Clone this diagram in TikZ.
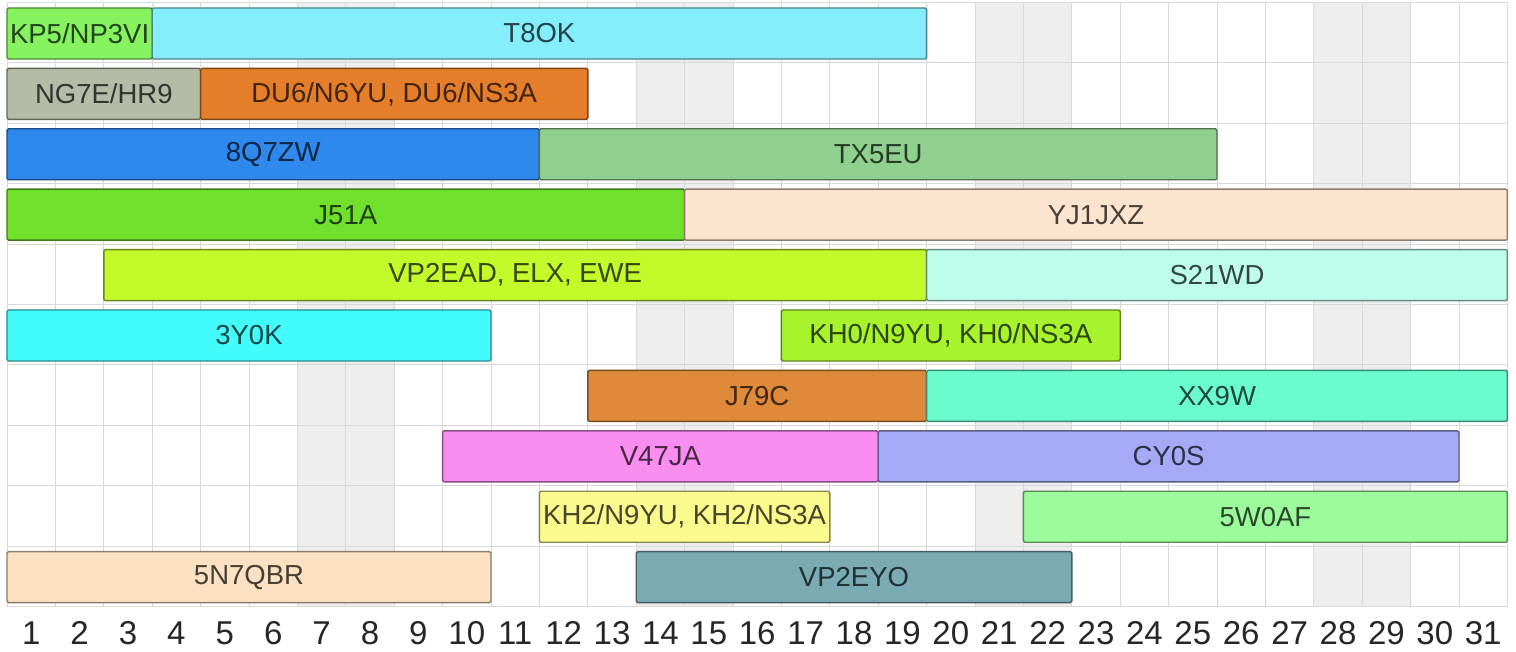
\documentclass[tikz,border=0pt]{standalone}
\usepackage{fontspec}
\setmainfont{Liberation Sans}
\definecolor{cKP}{HTML}{86F260}
\definecolor{cT8}{HTML}{84EEFC}
\definecolor{cNG}{HTML}{B4BCA6}
\definecolor{cDU}{HTML}{E57E2A}
\definecolor{cQZ}{HTML}{2F88EC}
\definecolor{cTX}{HTML}{90D08E}
\definecolor{cJ5}{HTML}{70E02C}
\definecolor{cYJ}{HTML}{FCE4CE}
\definecolor{cVP}{HTML}{C2FA2A}
\definecolor{cS2}{HTML}{BEFCEC}
\definecolor{c3Y}{HTML}{42FCFC}
\definecolor{cKH}{HTML}{A8F42C}
\definecolor{cJ7}{HTML}{DE8A3A}
\definecolor{cXX}{HTML}{6AFCCE}
\definecolor{cV4}{HTML}{FA8EF0}
\definecolor{cCY}{HTML}{A4AAF6}
\definecolor{cK2}{HTML}{FAFA8E}
\definecolor{c5W}{HTML}{9CFC9C}
\definecolor{c5N}{HTML}{FCE2C2}
\definecolor{cVE}{HTML}{7AAAB4}
\definecolor{gridline}{HTML}{D9D9D9}
\definecolor{weekend}{HTML}{EEEEEE}
\newcommand\gbar[6]{%
  \pgfmathsetmacro\gxa{7+48.4*#3}%
  \pgfmathsetmacro\gxb{7+48.4*#4}%
  \pgfmathsetmacro\gyc{8+60.4*#2+25.5}%
  \pgfmathsetmacro\gbw{\gxb-\gxa}%
  \pgfmathsetmacro\gxc{(\gxa+\gxb)/2}%
  \node[gbox, fill=#5, draw=#5!55!black, text=#5!28!black, minimum width=\gbw pt] (#1) at (\gxc,\gyc) {#6};}
\begin{document}
\begin{tikzpicture}[x=1pt,y=-1pt,
  gbox/.style={rectangle, rounded corners=1.5pt, line width=1.4pt, inner sep=0pt, minimum height=51pt,
    font=\fontsize{27.5}{30}\selectfont},
  daylab/.style={inner sep=0pt, font=\fontsize{33}{36}\selectfont, text=black!85}]
\useasboundingbox (0,0) rectangle (1516,652);
\fill[white] (0,0) rectangle (1516,652);
% weekend columns
\foreach \k in {6,7,13,14,20,21,27,28}{
  \fill[weekend] ({7+48.4*\k},2.5) rectangle ({7+48.4*(\k+1)},606.5);
}
% grid
\foreach \k in {0,...,31}{
  \draw[gridline, line width=1pt] ({7+48.4*\k},2.5) -- ({7+48.4*\k},606.5);
}
\foreach \r in {0,...,10}{
  \draw[gridline, line width=1pt] (7,{2.5+60.4*\r}) -- (1507.4,{2.5+60.4*\r});
}
% bars
\gbar{kp}{0}{0}{3}{cKP}{KP5/NP3VI}
\gbar{t8}{0}{3}{19}{cT8}{T8OK}
\gbar{ng}{1}{0}{4}{cNG}{NG7E/HR9}
\gbar{du}{1}{4}{12}{cDU}{DU6/N6YU, DU6/NS3A}
\gbar{qz}{2}{0}{11}{cQZ}{8Q7ZW}
\gbar{tx}{2}{11}{25}{cTX}{TX5EU}
\gbar{jf}{3}{0}{14}{cJ5}{J51A}
\gbar{yj}{3}{14}{31}{cYJ}{YJ1JXZ}
\gbar{vp}{4}{2}{19}{cVP}{VP2EAD, ELX, EWE}
\gbar{sw}{4}{19}{31}{cS2}{S21WD}
\gbar{ty}{5}{0}{10}{c3Y}{3Y0K}
\gbar{kh}{5}{16}{23}{cKH}{KH0/N9YU, KH0/NS3A}
\gbar{js}{6}{12}{19}{cJ7}{J79C}
\gbar{xx}{6}{19}{31}{cXX}{XX9W}
\gbar{vf}{7}{9}{18}{cV4}{V47JA}
\gbar{cy}{7}{18}{30}{cCY}{CY0S}
\gbar{kt}{8}{11}{17}{cK2}{KH2/N9YU, KH2/NS3A}
\gbar{fw}{8}{21}{31}{c5W}{5W0AF}
\gbar{fn}{9}{0}{10}{c5N}{5N7QBR}
\gbar{ve}{9}{13}{22}{cVE}{VP2EYO}
% day labels
\foreach \d in {1,...,31}{
  \node[daylab] (d\d) at ({7+48.4*(\d-0.5)},633) {\d};
}
\end{tikzpicture}
\end{document}
